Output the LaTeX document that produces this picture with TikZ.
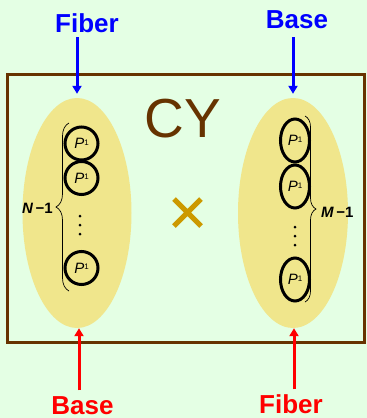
\documentclass[tikz,border=0pt]{standalone}
\usepackage{fontspec}
\setmainfont{Liberation Sans}
\usetikzlibrary{decorations.pathreplacing,arrows.meta,shapes.geometric}
\definecolor{bggreen}{HTML}{E4FFE4}
\definecolor{framebrown}{HTML}{663300}
\definecolor{khakifill}{HTML}{F0E68C}
\definecolor{crossgold}{HTML}{CC9900}
\newcommand{\Pone}{\textit{P}\raisebox{3.2pt}{\fontsize{8}{8}\selectfont 1}}
\begin{document}
\begin{tikzpicture}[x=1pt,y=-1pt,
  lbl/.style={inner sep=0pt,font=\fontsize{26}{30}\selectfont\bfseries},
  blob/.style={ellipse,fill=khakifill,draw=none,minimum width=109pt,minimum height=230pt,inner sep=0pt},
  pcirc/.style={circle,draw=black,line width=3pt,minimum size=33pt,inner sep=0pt,font=\fontsize{15}{17}\selectfont},
  pell/.style={ellipse,draw=black,line width=3pt,minimum width=29pt,minimum height=43pt,inner sep=0pt,font=\fontsize{15}{17}\selectfont},
  arr/.style={line width=3pt,-{Triangle[width=9pt,length=8pt]}},
  brc/.style={decorate,decoration={brace,amplitude=13pt},line width=0.7pt},
  dot/.style={circle,fill=black,inner sep=0pt,minimum size=3pt},
  cnt/.style={inner sep=0pt,font=\fontsize{15}{17}\selectfont\bfseries}
]
\useasboundingbox (0,0) rectangle (367,418);
\fill[bggreen] (0,0) rectangle (367,418);
\draw[framebrown,line width=3pt] (7.5,74.5) rectangle (364.7,342.5);

% blobs
\node[blob] (lell) at (77,213) {};
\node[blob,minimum width=110pt] (rell) at (293,213) {};

% CY and times
\node[inner sep=0pt,text=framebrown,font=\fontsize{55}{60}\selectfont] (cy) at (182.5,119) {CY};
\coordinate (xa) at (174,199);
\coordinate (xb) at (201,226);
\coordinate (xc) at (174,226);
\coordinate (xd) at (201,199);
\draw[crossgold,line width=5pt] (xa) -- (xb) (xc) -- (xd);

% left P^1 circles
\node[pcirc] (l1) at (81.5,143.5) {\Pone};
\node[pcirc] (l2) at (81.5,178) {\Pone};
\node[pcirc] (l3) at (81.5,268) {\Pone};
\node[dot] (ld1) at (80,216) {};
\node[dot] (ld2) at (80,225) {};
\node[dot] (ld3) at (80,234) {};

% right P^1 ellipses
\node[pell] (r1) at (295,140.5) {\Pone};
\node[pell] (r2) at (295,186.5) {\Pone};
\node[pell] (r3) at (295,279.5) {\Pone};
\node[dot] (rd1) at (295,227) {};
\node[dot] (rd2) at (295,236) {};
\node[dot] (rd3) at (295,245) {};

% braces
\coordinate (lbB) at (69,291);
\coordinate (lbT) at (69,123);
\draw[brc] (lbB) -- (lbT);
\node[cnt,anchor=east] (nlab) at (53,208) {\textit{N}\,−1};
\coordinate (rbT) at (305,116);
\coordinate (rbB) at (305,302);
\draw[brc,decoration={amplitude=11pt}] (rbT) -- (rbB);
\node[cnt,anchor=west] (mlab) at (321,212) {\textit{M}\,−1};

% labels
\node[lbl,text=blue,anchor=base] (fiberT) at (87,32) {Fiber};
\node[lbl,text=blue,anchor=base] (baseT) at (297,28) {Base};
\node[lbl,text=red,anchor=base] (baseB) at (82.5,414.5) {Base};
\node[lbl,text=red,anchor=base] (fiberB) at (291,413.5) {Fiber};

% arrows
\draw[arr,blue,shorten <=5pt,shorten >=4pt] (lell.north |- fiberT.south) -- (lell.north);
\draw[arr,blue,shorten <=9pt,shorten >=4pt] (rell.north |- baseT.south) -- (rell.north);
\draw[arr,red,shorten <=6pt,shorten >=0pt] ([xshift=2pt]lell.south |- baseB.north) -- ([xshift=2pt]lell.south);
\draw[arr,red,shorten <=5pt,shorten >=0pt] ([xshift=1pt]rell.south |- fiberB.north) -- ([xshift=1pt]rell.south);
\end{tikzpicture}
\end{document}
